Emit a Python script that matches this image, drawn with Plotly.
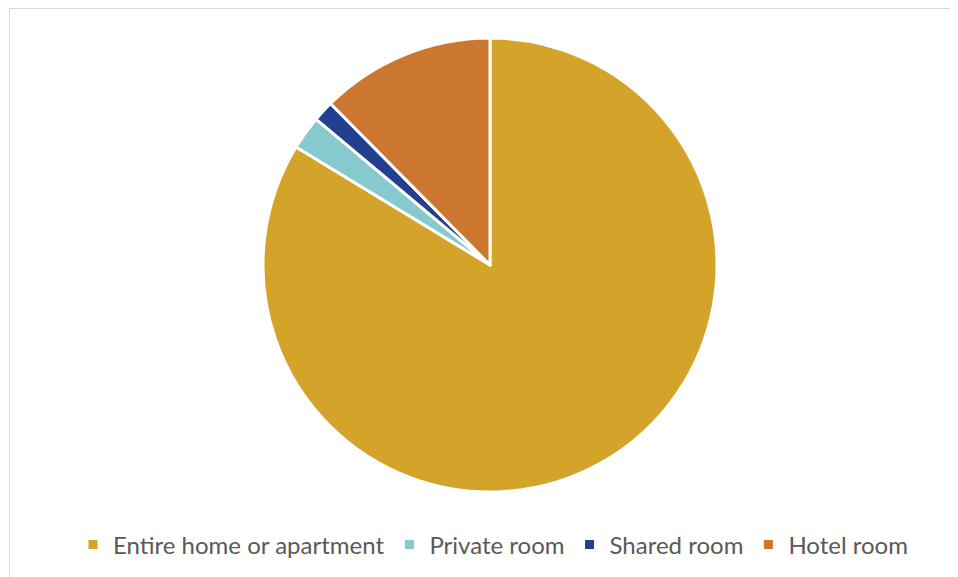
import plotly.graph_objects as go

labels = ["Entire home or apartment", "Private room", "Shared room", "Hotel room"]
values = [83.7, 2.4, 1.5, 12.4]
colors = ["#D4A42A", "#86C9CF", "#233F8F", "#CC7730"]

W, H = 958, 577
OFF = 8  # page body margin offset

def px_x(x):
    return (x - OFF) / W

def px_y(y):
    return 1 - (y - OFF) / H

fig = go.Figure(go.Pie(
    labels=labels,
    values=values,
    sort=False,
    direction="clockwise",
    rotation=0,
    textinfo="none",
    hoverinfo="label+percent",
    marker=dict(colors=colors, line=dict(color="white", width=3)),
    domain=dict(x=[px_x(263), px_x(717)], y=[px_y(492), px_y(38)]),
))

fig.update_layout(
    width=W, height=H,
    margin=dict(l=0, r=0, t=0, b=0),
    paper_bgcolor="white",
    plot_bgcolor="white",
    showlegend=True,
    legend=dict(
        orientation="h",
        x=px_x(493), xanchor="center",
        y=px_y(545), yanchor="middle",
        font=dict(family="Lato", size=24, color="#595959"),
        itemwidth=30,
        traceorder="normal",
    ),
    shapes=[
        dict(type="line", xref="paper", yref="paper",
             x0=px_x(9.5), x1=1.2, y0=px_y(8.5), y1=px_y(8.5),
             line=dict(color="#D9D9D9", width=1), layer="below"),
        dict(type="line", xref="paper", yref="paper",
             x0=px_x(9.5), x1=px_x(9.5), y0=-0.2, y1=px_y(8.5),
             line=dict(color="#D9D9D9", width=1), layer="below"),
    ],
)

fig.write_html("out.html")
